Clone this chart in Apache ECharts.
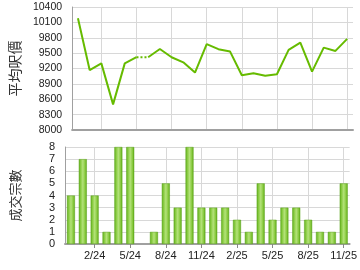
<!DOCTYPE html>
<html>
<head>
<meta charset="utf-8">
<script src="https://cdn.jsdelivr.net/npm/echarts@6/dist/echarts.min.js"></script>
<style>html,body{margin:0;padding:0;background:#fff;}#c{width:360px;height:270px;}</style>
</head>
<body>
<div id="c"></div>
<script>
var months = ['12/23','1/24','2/24','3/24','4/24','5/24','6/24','7/24','8/24','9/24','10/24','11/24','12/24','1/25','2/25','3/25','4/25','5/25','6/25','7/25','8/25','9/25','10/25','11/25'];
var avgPrice = [10180,9170,9300,8500,9300,9420,9420,9580,9420,9320,9120,9675,9577,9530,9067,9106,9059,9087,9563,9706,9138,9608,9543,9779];
var dealCount = [4,7,4,1,8,8,0,1,5,3,8,3,3,3,2,1,5,2,3,3,2,1,1,5];
var priceTicks = {min: 8000, max: 10400, step: 300};
var countTicks = {min: 0, max: 8, step: 1};
var gapIndex = 6; // month without transactions, joined by dotted line

var solidA = avgPrice.map(function(v,i){return i < gapIndex ? v : null;});
var solidB = avgPrice.map(function(v,i){return i >= gapIndex ? v : null;});
var dotted = avgPrice.map(function(v,i){return (i === gapIndex-1 || i === gapIndex) ? v : null;});
var barData = dealCount.map(function(v){return v === 0 ? null : v;});

function showIdx(i){ return (i - 2) % 3 === 0; }
var lineColor = '#66bb00';
var font = 'Liberation Sans, Arial, sans-serif';

var chart = echarts.init(document.getElementById('c'));
chart.setOption({
  animation: false,
  backgroundColor: '#fff',
  grid: [
    {left: 65, top: 7, width: 288, height: 123},
    {left: 65, top: 147, width: 288, height: 97}
  ],
  xAxis: [
    {type: 'category', gridIndex: 0, data: months, boundaryGap: true,
     axisLine: {show: true, lineStyle: {color: '#a0a0a0', width: 2}},
     axisTick: {show: false},
     axisLabel: {show: false},
     splitLine: {show: true, interval: function(i){return showIdx(i);}, alignWithLabel: true, lineStyle: {color: '#d8d8d8', width: 1}}
    },
    {type: 'category', gridIndex: 1, data: months, boundaryGap: true,
     axisLine: {show: true, lineStyle: {color: '#a0a0a0', width: 2}},
     axisTick: {show: true, interval: function(i){return showIdx(i);}, alignWithLabel: true, length: 4, lineStyle: {color: '#888'}},
     axisLabel: {show: true, interval: function(i){return showIdx(i);}, color: '#222', fontSize: 11, fontFamily: font, margin: 6},
     splitLine: {show: true, interval: function(i){return showIdx(i);}, alignWithLabel: true, lineStyle: {color: '#d8d8d8', width: 1}}
    }
  ],
  yAxis: [
    {type: 'value', gridIndex: 0, min: priceTicks.min, max: priceTicks.max, interval: priceTicks.step,
     name: '平均呎價', nameLocation: 'middle', nameRotate: 90, nameGap: 43,
     nameTextStyle: {fontSize: 14, color: '#333', fontFamily: 'Noto Sans CJK TC'},
     axisLine: {show: true, lineStyle: {color: '#a0a0a0', width: 1}},
     axisTick: {show: false},
     axisLabel: {color: '#222', fontSize: 10.5, fontFamily: font, margin: 10, formatter: function(v){return String(v);}},
     splitLine: {show: true, lineStyle: {color: '#d8d8d8'}}
    },
    {type: 'value', gridIndex: 1, min: countTicks.min, max: countTicks.max, interval: countTicks.step,
     name: '成交宗數', nameLocation: 'middle', nameRotate: 90, nameGap: 43,
     nameTextStyle: {fontSize: 13, color: '#333', fontFamily: 'Noto Sans CJK TC'},
     axisLine: {show: true, lineStyle: {color: '#a0a0a0', width: 1}},
     axisTick: {show: false},
     axisLabel: {color: '#222', fontSize: 11, fontFamily: font, margin: 10},
     splitLine: {show: true, lineStyle: {color: '#d8d8d8'}}
    }
  ],
  series: [
    {type: 'line', xAxisIndex: 0, yAxisIndex: 0, data: solidA, showSymbol: false, connectNulls: false,
     lineStyle: {color: lineColor, width: 2}, itemStyle: {color: lineColor}},
    {type: 'line', xAxisIndex: 0, yAxisIndex: 0, data: solidB, showSymbol: false, connectNulls: false,
     lineStyle: {color: lineColor, width: 2}, itemStyle: {color: lineColor}},
    {type: 'line', xAxisIndex: 0, yAxisIndex: 0, data: dotted, showSymbol: false, connectNulls: false,
     lineStyle: {color: lineColor, width: 2, type: [2, 2]}, itemStyle: {color: lineColor}},
    {type: 'bar', xAxisIndex: 1, yAxisIndex: 1, data: barData, barWidth: 8,
     itemStyle: {
       color: new echarts.graphic.LinearGradient(0, 0, 1, 0, [
         {offset: 0, color: '#5fae1c'},
         {offset: 0.25, color: '#8ccd45'},
         {offset: 0.5, color: '#b4e27a'},
         {offset: 0.8, color: '#86c83c'},
         {offset: 1, color: '#5aa816'}
       ]),
       borderColor: '#5da51a', borderWidth: 0.5
     }}
  ]
});
</script>
</body>
</html>
